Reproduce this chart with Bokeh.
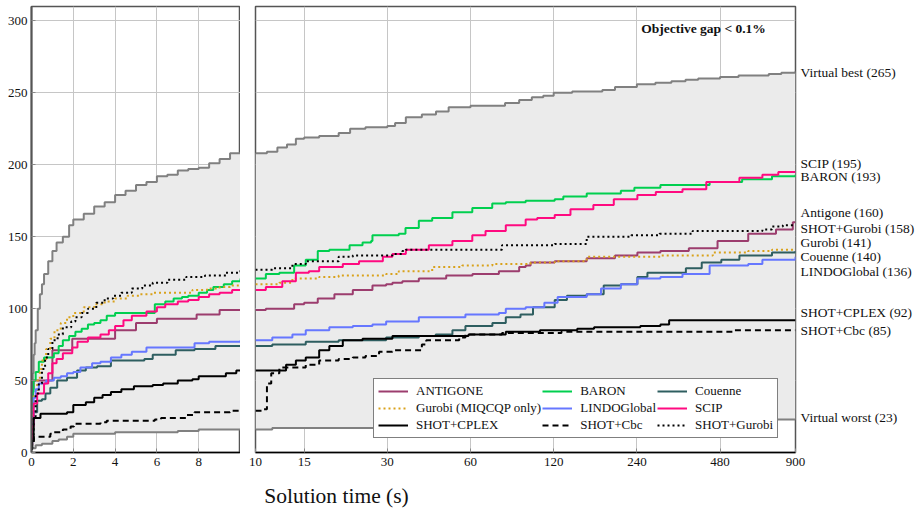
import numpy as np
from bokeh.plotting import figure
from bokeh.layouts import row, column
from bokeh.models import FixedTicker, LinearAxis, Label, PrintfTickFormatter
from bokeh.embed import file_html
from bokeh.resources import INLINE

SERIF = "Liberation Serif"

# ---------------- data: solved instances vs. solution time (s) ----------------
virtual_best_t = [0, 0.03, 0.06, 0.1, 0.15, 0.2, 0.3, 0.4, 0.5, 0.6, 0.8, 1.0, 1.2, 1.5, 1.8, 2.0, 2.5, 3, 3.5, 4,
                  4.5, 5, 5.5, 6, 6.5, 7, 7.5, 8, 8.5, 9, 9.5, 10,
                  11, 12, 13, 14, 15, 17, 20, 22, 25, 30, 32, 35, 40, 45, 50, 60, 70, 80, 90, 100,
                  110, 120, 140, 160, 180, 200, 240, 280, 320, 360, 400, 480, 560, 640, 720, 800, 900]
virtual_best_n = [5, 40, 55, 68, 76, 85, 100, 110, 117, 124, 133, 140, 146, 150, 158, 162, 166, 171, 174, 179,
                  182, 186, 188, 192, 193, 196, 197, 198, 201, 204, 208, 208,
                  209, 212, 214, 218, 219, 220, 222, 225, 226, 227, 229, 233, 235, 237, 240, 241, 241, 243, 245, 247,
                  248, 250, 251, 251, 252, 254, 256, 257, 258, 259, 260, 261, 262, 262, 263, 264, 265]

virtual_worst_t = [0, 0.2, 0.5, 1.0, 1.3, 1.7, 2, 3, 4, 5, 6, 7, 7.5, 8, 10, 11.5, 40, 100, 200, 400, 700, 900]
virtual_worst_n = [3, 5, 6, 8, 9, 11, 13, 13, 14, 14, 14, 15, 15, 16, 16, 17, 18, 19, 20, 21, 23, 23]

antigone_t = [0, 0.03, 0.06, 0.1, 1.0, 1.95, 4.0, 5.0, 6.0, 7.9, 9.0, 10,
              10.9, 13.8, 15, 16.8, 19.3, 22.5, 26.5, 29.7, 31.3, 34, 39, 49, 61, 76, 90, 95, 99, 121, 158, 200,
              241, 292, 370, 470, 607, 765, 880, 900]
antigone_n = [10, 30, 44, 50, 71, 79, 85, 90, 93, 96, 99, 99,
              100, 103, 104, 107, 110, 113, 116, 117, 118, 119, 121, 123, 124, 126, 129, 130, 132, 133, 135, 137,
              139, 140, 142, 147, 152, 155, 160, 160]

baron_t = [0, 0.03, 0.06, 0.1, 0.2, 0.35, 0.6, 1.07, 1.3, 1.5, 1.8, 2.1, 2.4, 2.7, 3.0, 3.3, 3.6, 4.0, 5.55, 5.9,
           6.4, 6.8, 7.2, 7.5, 8.0, 8.4, 8.7, 9.2, 9.6, 10,
           10.9, 12.2, 13.8, 15.2, 16.8, 18.5, 21.9, 24.4, 26.2, 26.5, 33, 34.9, 39, 43.6, 51.6, 60.9, 71.9, 80.5,
           95, 121, 130, 158, 210, 235, 292, 412, 440, 577, 740, 900]
baron_n = [10, 30, 42, 50, 56, 63, 66, 69, 74, 78, 81, 84, 86, 89, 90, 92, 95, 97, 97, 103,
           105, 107, 108, 109, 111, 113, 115, 117, 119, 121,
           124, 125, 130, 134, 140, 141, 144, 146, 147, 151, 152, 156, 161, 163, 167, 170, 173, 174,
           175, 176, 178, 180, 182, 184, 186, 186, 188, 190, 192, 193]

couenne_t = [0, 0.03, 0.1, 0.27, 0.5, 0.67, 0.9, 1.23, 1.7, 2.18, 2.6, 3.14, 3.8, 5.4, 5.8, 6.9, 7.8, 8.8, 10,
             11.5, 15.2, 20, 29.7, 39, 44.9, 51.6, 57.5, 72, 80.5, 91, 101, 121, 134, 158, 182, 210, 241, 262,
             361, 412, 485, 564, 740, 900]
couenne_n = [3, 15, 28, 36, 37, 41, 45, 50, 52, 57, 59, 60, 64, 65, 68, 71, 72, 74, 74,
             75, 77, 78, 80, 81, 82, 85, 88, 90, 94, 96, 101, 106, 109, 110, 116, 117, 122, 125,
             128, 132, 134, 137, 139, 140]

gurobi_t = [0, 0.03, 0.1, 0.27, 0.4, 0.5, 0.7, 0.9, 1.1, 1.4, 1.7, 2.0, 2.5, 3.0, 3.5, 4.0, 4.6, 5.2, 5.8, 7.0,
            7.7, 8.4, 9.0, 9.5, 10,
            12.2, 13.6, 14.8, 17, 20, 29.7, 33, 43.6, 56, 72, 91, 99, 121, 158, 292, 452, 607, 740, 810, 900]
gurobi_n = [5, 31, 40, 50, 58, 64, 72, 79, 85, 90, 94, 97, 101, 103, 105, 107, 109, 110, 111, 111,
            113, 114, 115, 116, 117,
            118, 121, 121, 122, 123, 124, 126, 129, 130, 131, 131, 132, 133, 136, 137, 139, 140, 141, 141, 141]

lindo_t = [0, 0.03, 0.1, 0.2, 0.35, 0.7, 1.07, 1.4, 1.7, 2.0, 2.34, 2.9, 3.3, 3.8, 4.3, 4.8, 5.5, 7.8, 8.5, 10,
           11.5, 13.6, 15.2, 18.5, 22.5, 26.5, 29.7, 39, 57.5, 76, 80.5, 95, 111, 124, 158, 178, 210, 241, 292,
           351, 440, 607, 683, 900]
lindo_n = [5, 20, 38, 44, 48, 50, 52, 53, 55, 56, 59, 62, 63, 66, 68, 70, 73, 76, 77, 78,
           80, 82, 85, 87, 88, 89, 91, 94, 96, 97, 100, 101, 104, 108, 110, 114, 117, 121, 122,
           124, 130, 131, 134, 136]

scip_t = [0, 0.03, 0.1, 0.27, 0.6, 0.8, 1.0, 1.2, 1.5, 1.95, 2.2, 2.7, 3.3, 3.7, 4.0, 4.4, 4.8, 5.5, 6.0, 6.4,
          7.0, 7.5, 8.0, 8.5, 9.0, 9.6, 10,
          10.9, 12.5, 14, 15.6, 17, 20.7, 23.7, 28.9, 31.3, 35, 42.4, 51.6, 60.9, 68, 80.5, 95, 104.6, 121, 138,
          167, 198, 241, 281, 351, 428, 564, 683, 780, 900]
scip_n = [5, 18, 34, 41, 48, 55, 62, 65, 69, 73, 77, 80, 82, 85, 88, 92, 95, 98, 101, 103,
          105, 106, 108, 110, 111, 113, 113,
          115, 119, 125, 126, 129, 131, 133, 136, 138, 141, 144, 147, 151, 154, 158, 162, 163, 165, 169,
          172, 176, 179, 181, 183, 188, 191, 193, 195, 195]

shot_cplex_t = [0, 0.03, 0.1, 0.43, 1.0, 1.7, 2.0, 2.6, 3.0, 3.4, 3.8, 4.3, 4.9, 5.8, 6.3, 7.0, 7.7, 8.0, 9.3, 9.8, 10,
                12.9, 14, 15.2, 17, 18.5, 20.7, 24.4, 31.3, 59, 80.5, 107, 146, 168, 247, 292, 314, 900]
shot_cplex_n = [3, 8, 24, 27, 27, 28, 33, 35, 38, 40, 42, 44, 46, 47, 48, 50, 51, 53, 55, 57, 57,
                61, 64, 66, 71, 74, 78, 79, 81, 82, 84, 85, 86, 87, 88, 89, 92, 92]

shot_cbc_t = [0, 0.03, 0.11, 0.9, 1.07, 1.5, 1.87, 2.03, 3.3, 3.6, 5.9, 6.2, 7.4, 7.8, 9.5, 10,
              10.7, 11.0, 11.4, 12.2, 15.2, 17, 20, 22.5, 25, 28, 31.3, 40, 41.5, 54.6, 57.5, 78, 117, 128, 533, 900]
shot_cbc_n = [2, 6, 11, 13, 14, 16, 18, 20, 21, 22, 23, 24, 26, 28, 29, 29,
              30, 48, 55, 59, 61, 64, 65, 66, 67, 70, 71, 75, 78, 80, 82, 83, 83, 84, 85, 85]

shot_gurobi_t = [0, 0.03, 0.1, 0.2, 0.35, 0.5, 0.65, 0.8, 1.0, 1.25, 1.5, 1.9, 2.1, 2.4, 2.7, 3.1, 3.5, 3.9, 4.3,
                 4.8, 5.3, 5.8, 6.5, 7.4, 8.3, 9.3, 10,
                 11.5, 13.6, 15.2, 20, 22.5, 31.3, 34, 35, 78, 121, 158, 229, 290, 382, 683, 740, 810, 900]
shot_gurobi_n = [3, 8, 25, 41, 48, 58, 66, 72, 78, 82, 87, 91, 94, 97, 100, 104, 107, 109, 111,
                 114, 116, 118, 120, 122, 123, 125, 127,
                 128, 131, 133, 136, 137, 138, 140, 141, 144, 145, 150, 151, 152, 154, 155, 157, 158, 158]

# right-hand end labels
end_labels = ["Virtual best (265)", "SCIP (195)", "BARON (193)", "Antigone (160)", "SHOT+Gurobi (158)",
              "Gurobi (141)", "Couenne (140)", "LINDOGlobal (136)", "SHOT+CPLEX (92)", "SHOT+Cbc (85)",
              "Virtual worst (23)"]
end_label_pos = [264, 201, 192, 167, 156, 146, 136, 126, 97, 85, 24]

left_xticks = [0, 2, 4, 6, 8]
right_xticks = [10, 15, 30, 60, 120, 240, 480, 900]
yticks = [0, 50, 100, 150, 200, 250, 300]

series = [
    ("ANTIGONE", antigone_t, antigone_n, "#9c3d6e", "solid"),
    ("BARON", baron_t, baron_n, "#00cf4f", "solid"),
    ("Couenne", couenne_t, couenne_n, "#2e5e60", "solid"),
    ("Gurobi (MIQCQP only)", gurobi_t, gurobi_n, "#d9a21c", "2 3"),
    ("LINDOGlobal", lindo_t, lindo_n, "#6677ff", "solid"),
    ("SCIP", scip_t, scip_n, "#ff0a80", "solid"),
    ("SHOT+CPLEX", shot_cplex_t, shot_cplex_n, "#000000", "solid"),
    ("SHOT+Cbc", shot_cbc_t, shot_cbc_n, "#000000", "6 4"),
    ("SHOT+Gurobi", shot_gurobi_t, shot_gurobi_n, "#000000", "2 3"),
]


def part(t, n, left):
    t = np.asarray(t, float)
    n = np.asarray(n, float)
    m = (t <= 10) if left else (t >= 10)
    return list(t[m]), list(n[m])


def step_xy(t, n):
    xs, ys = [], []
    for i in range(len(t)):
        xs.append(t[i]); ys.append(n[i])
        if i + 1 < len(t):
            xs.append(t[i + 1]); ys.append(n[i])
    return xs, ys


def style(p):
    p.background_fill_color = "white"
    p.border_fill_color = "white"
    p.outline_line_color = "#555555"
    p.outline_line_width = 1.5
    p.xgrid.grid_line_color = "#c6c6c6"
    p.ygrid.grid_line_color = "#c6c6c6"
    p.ygrid.ticker = FixedTicker(ticks=yticks)
    for ax in p.xaxis:
        ax.axis_line_color = "black"
        ax.axis_line_width = 1.5
        ax.major_tick_in = 4
        ax.major_tick_out = 0
        ax.major_tick_line_color = "#888888"
        ax.minor_tick_line_color = None
        ax.major_label_text_font = SERIF
        ax.major_label_text_font_size = "13px"
        ax.major_label_text_color = "#111111"
        ax.major_label_standoff = 5


def draw(p, left):
    bt, bn = part(virtual_best_t, virtual_best_n, left)
    wt, wn = part(virtual_worst_t, virtual_worst_n, left)
    bx, by = step_xy(bt, bn)
    wx, wy = step_xy(wt, wn)
    p.patch(bx + wx[::-1], by + wy[::-1], fill_color="#ebebeb", line_color=None)
    p.step(bt, bn, mode="after", line_color="#808080", line_width=2)
    p.step(wt, wn, mode="after", line_color="#808080", line_width=2)
    for name, t, n, c, d in series:
        tt, nn = part(t, n, left)
        kw = dict(mode="after", line_color=c, line_width=2, line_dash=d)
        if not left:
            kw["legend_label"] = name
        p.step(tt, nn, **kw)


# ---------------- left panel: linear 0-10 s ----------------
pl = figure(frame_width=209, frame_height=446, x_range=(0, 10), y_range=(0, 310),
            output_backend="svg", toolbar_location=None,
            min_border_left=31, min_border_right=0, min_border_top=6, min_border_bottom=30)
style(pl)
pl.xaxis.ticker = FixedTicker(ticks=left_xticks)
pl.yaxis.ticker = FixedTicker(ticks=yticks)
pl.yaxis.axis_line_color = "#555555"
pl.yaxis.axis_line_width = 2
pl.yaxis.major_tick_in = 4
pl.yaxis.major_tick_out = 0
pl.yaxis.major_tick_line_color = "#888888"
pl.yaxis.minor_tick_line_color = None
pl.yaxis.major_label_text_font = SERIF
pl.yaxis.major_label_text_font_size = "13px"
pl.yaxis.major_label_text_color = "#111111"
pl.yaxis.major_label_standoff = 4
draw(pl, True)

# ---------------- right panel: log 10-900 s ----------------
pr = figure(frame_width=540, frame_height=446, x_range=(10, 900), y_range=(0, 310),
            x_axis_type="log", y_axis_location=None,
            output_backend="svg", toolbar_location=None,
            min_border_left=15, min_border_right=126, min_border_top=6, min_border_bottom=30)
style(pr)
pr.xaxis.ticker = FixedTicker(ticks=right_xticks)
pr.xaxis.formatter = PrintfTickFormatter(format="%d")
pr.xgrid.ticker = FixedTicker(ticks=right_xticks)
draw(pr, False)

rax = LinearAxis(ticker=FixedTicker(ticks=end_label_pos),
                 major_label_overrides={v: s for v, s in zip(end_label_pos, end_labels)})
rax.axis_line_color = None
rax.major_tick_line_color = None
rax.minor_tick_line_color = None
rax.major_tick_in = 0
rax.major_tick_out = 0
rax.major_label_standoff = 5
rax.major_label_text_font = SERIF
rax.major_label_text_font_size = "13.5px"
rax.major_label_text_color = "#111111"
pr.add_layout(rax, "right")

lg = pr.legend[0]
lg.orientation = "horizontal"
lg.ncols = 3
lg.location = (118, 14)
lg.label_text_font = SERIF
lg.label_text_font_size = "13px"
lg.label_text_color = "#111111"
lg.glyph_width = 30
lg.glyph_height = 10
lg.label_height = 10
lg.label_standoff = 8
lg.spacing = 1
lg.padding = 4
lg.margin = 0
lg.border_line_color = "black"
lg.border_line_width = 1
lg.background_fill_alpha = 1.0

pr.add_layout(Label(x=703, y=295, text="Objective gap < 0.1%", text_align="right", text_baseline="middle",
                    text_font=SERIF, text_font_size="13.5px", text_font_style="bold", text_color="#111111"))

# ---------------- strip below both panels holding the x-axis title ----------------
pb = figure(width=921, height=27, x_range=(0, 921), y_range=(0, 27),
            output_backend="svg", toolbar_location=None,
            x_axis_location=None, y_axis_location=None, min_border=0)
pb.grid.visible = False
pb.outline_line_color = None
pb.background_fill_color = "white"
pb.border_fill_color = "white"
pb.add_layout(Label(x=336, y=14, text="Solution time (s)", text_align="center", text_baseline="middle",
                    text_font=SERIF, text_font_size="21.5px", text_color="#111111"))

layout = column(row(pl, pr), pb)
open("out.html", "w").write(file_html(layout, INLINE))
